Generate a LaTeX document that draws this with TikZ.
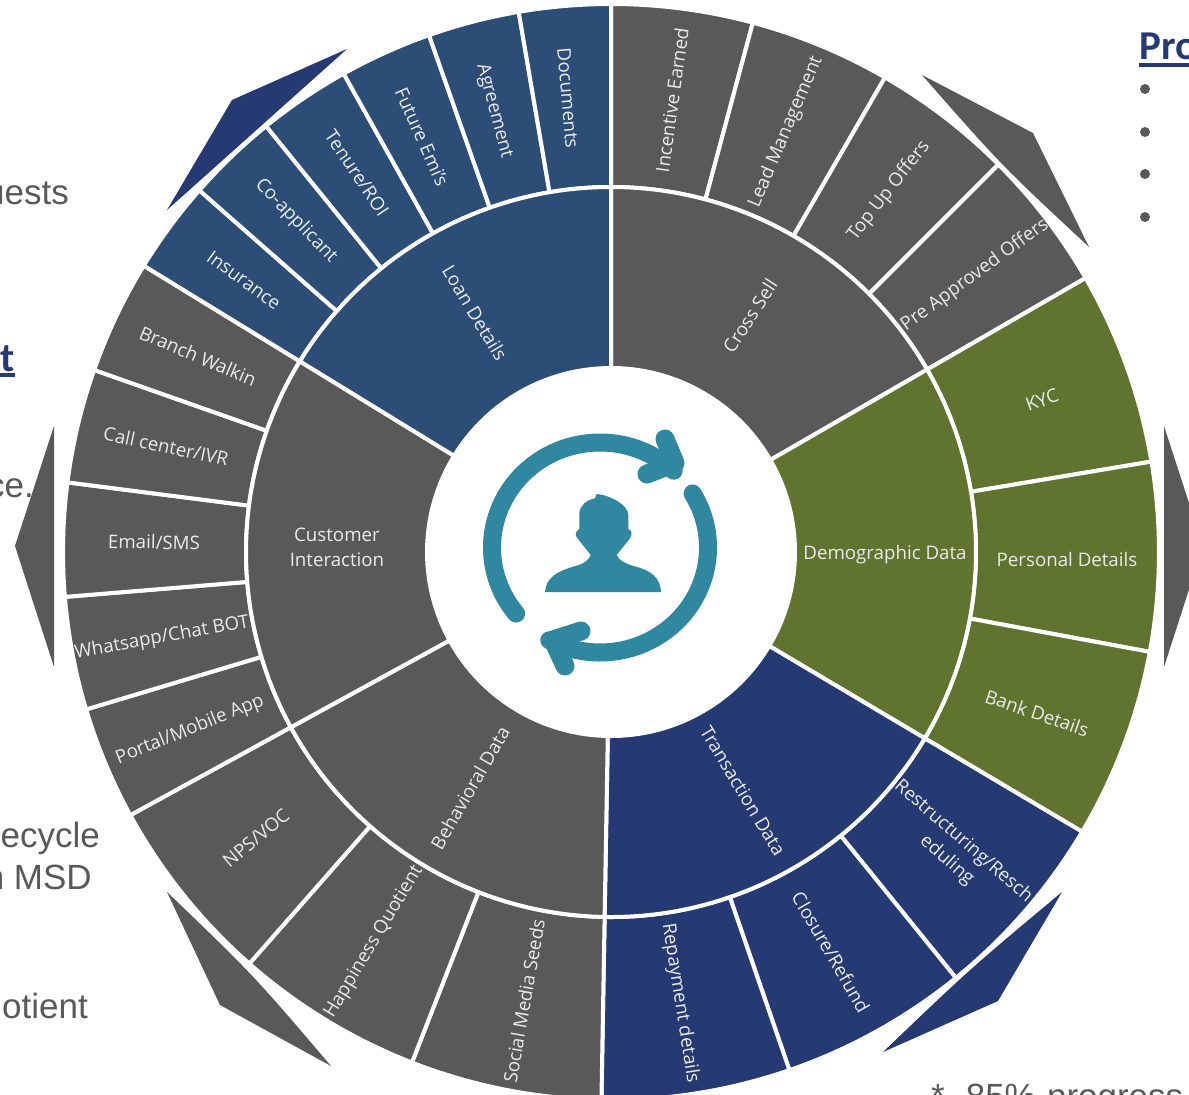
\documentclass[tikz,border=0pt]{standalone}
\usepackage{fontspec}
\setmainfont{Open Sans}
\newfontfamily\arialf{Liberation Sans}
\newfontfamily\headf{Carlito}
\definecolor{greyc}{HTML}{595959}
\definecolor{loanc}{HTML}{2C4D75}
\definecolor{olivec}{HTML}{607430}
\definecolor{navyc}{HTML}{253972}
\definecolor{tealc}{HTML}{2F87A0}
\newcommand{\sectr}[5]{\path[fill=#3,draw=white,line width=4pt,line join=miter] (#1:#5) arc[start angle=#1,end angle=#2,radius=#5] -- (#2:#4) arc[start angle=#2,end angle=#1,radius=#4] -- cycle;}
\newcommand{\sectrim}[3]{\sectr{#1}{#2}{#3}{184}{365}}
\newcommand{\sectrou}[3]{\sectr{#1}{#2}{#3}{365}{548}}
\tikzset{
 lab/.style={text=white!92!black,font=\fontsize{18.7}{25}\selectfont,inner sep=0pt,align=center},
 side/.style={text=greyc,font=\arialf\fontsize{35}{42}\selectfont,inner sep=0pt,anchor=base east},
 head/.style={text=navyc,font=\headf\bfseries\fontsize{41}{46}\selectfont,inner sep=0pt},
 pointer/.style={line width=0pt,draw=none},
 bulletdot/.style={circle,fill=greyc,minimum size=10pt,inner sep=0pt},
 ringline/.style={draw=tealc,line width=18pt,line cap=round,line join=round},
 headline/.style={draw=tealc,line width=19pt,line cap=round,line join=round}
}
\begin{document}
\begin{tikzpicture}[x=1pt,y=1pt]
\useasboundingbox (0,-1095) rectangle (1189,0);
\clip (0,-1095) rectangle (1189,0);
% wheel
\begin{scope}[shift={(611,-552)}]
\sectrou{90}{75}{greyc}\sectrou{75}{60}{greyc}\sectrou{60}{45}{greyc}\sectrou{45}{30}{greyc}
\sectrou{30}{9.5}{olivec}\sectrou{9.5}{-10.5}{olivec}\sectrou{-10.5}{-30.7}{olivec}
\sectrou{-30.7}{-51}{navyc}\sectrou{-51}{-71}{navyc}\sectrou{-71}{-91}{navyc}
\sectrou{-91}{-111.3}{greyc}\sectrou{-111.3}{-131.3}{greyc}\sectrou{-131.3}{-151.3}{greyc}
\sectrou{208.7}{196.7}{greyc}\sectrou{196.7}{184.7}{greyc}\sectrou{184.7}{172.7}{greyc}\sectrou{172.7}{160.6}{greyc}\sectrou{160.6}{148.5}{greyc}
\sectrou{148.5}{138.7}{loanc}\sectrou{138.7}{129}{loanc}\sectrou{129}{119.2}{loanc}\sectrou{119.2}{109.4}{loanc}\sectrou{109.4}{99.7}{loanc}\sectrou{99.7}{90}{loanc}
\sectrim{90}{30}{greyc}\sectrim{30}{-30.7}{olivec}\sectrim{-30.7}{-91}{navyc}\sectrim{-91}{-151.3}{greyc}\sectrim{208.7}{148.5}{greyc}\sectrim{148.5}{90}{loanc}
\fill[white] (0,0) circle[radius=184.5];
\end{scope}
% pointers
\fill[pointer,navyc] (167,-210) -- (232,-100) -- (347,-49) .. controls (257,-129) .. cycle;
\fill[pointer,greyc] (922,-75) -- (1033,-133) -- (1089,-247) .. controls (1001,-165) .. cycle;
\fill[pointer,greyc] (54,-426) -- (15,-546) -- (54,-667) -- cycle;
\fill[pointer,greyc] (1164,-426) -- (1203,-546) -- (1164,-667) -- cycle;
\fill[pointer,greyc] (167,-892) -- (220,-1005) -- (331,-1066) .. controls (253.4,-975) .. cycle;
\fill[pointer,navyc] (1062,-892) -- (998,-1001) -- (883,-1052) .. controls (969.8,-969) .. cycle;
% icon
\begin{scope}[shift={(600,-547.5)}]
\draw[ringline] (219:108 and 105) arc[start angle=219,end angle=47,x radius=108,y radius=105];
\draw[ringline] (31:108 and 105) arc[start angle=31,end angle=-118,x radius=108,y radius=105];
\end{scope}
\coordinate (hta) at (665,-439);\coordinate (htb) at (675,-463);\coordinate (htc) at (647,-474);
\coordinate (hba) at (565,-666);\coordinate (hbb) at (553,-640);\coordinate (hbc) at (581,-631);
\draw[headline] (hta) -- (htb) -- (htc);
\draw[headline] (hba) -- (hbb) -- (hbc);
\begin{scope}[shift={(420,-380)},scale=0.33333]
\fill[tealc] (375,-636) .. controls (378,-595) and (405,-575) .. (470,-557) .. controls (495,-550) and (505,-540) .. (512,-525) -- (475,-478) .. controls (465,-468) and (463,-455) .. (478,-447) -- (478,-400) .. controls (480,-375) and (500,-360) .. (525,-355) -- (530,-342) .. controls (570,-345) and (625,-375) .. (625,-405) -- (625,-447) .. controls (637,-452) and (637,-462) .. (630,-475) -- (590,-525) .. controls (595,-540) and (615,-550) .. (640,-558) .. controls (690,-570) and (720,-590) .. (723,-636) -- cycle;
\end{scope}
% inner labels
\node[lab,rotate=-59] (n1) at (475,-313) {Loan Details};
\node[lab,rotate=57] (n2) at (750,-316) {Cross Sell};
\node[lab] (n3) at (885,-555) {Demographic Data};
\node[lab,rotate=-59] (n4) at (743,-791) {Transaction Data};
\node[lab,rotate=60] (n5) at (470,-788) {Behavioral Data};
\node[lab] (n6) at (337,-547) {Customer\\Interaction};
% outer labels
\node[lab,rotate=-85] (o1) at (568,-98) {Documents};
\node[lab,rotate=-75] (o2) at (494,-111) {Agreement};
\node[lab,rotate=-66] (o3) at (422,-137) {Future Emi's};
\node[lab,rotate=-56] (o4) at (357,-173) {Tenure/ROI};
\node[lab,rotate=-46] (o5) at (296,-221) {Co-applicant};
\node[lab,rotate=-36] (o6) at (244,-280) {Insurance};
\node[lab,rotate=-23] (o7) at (198,-356) {Branch Walkin};
\node[lab,rotate=-12] (o8) at (166,-446) {Call center/IVR};
\node[lab,rotate=-1] (o9) at (154,-542) {Email/SMS};
\node[lab,rotate=10] (o10) at (162,-638) {Whatsapp/Chat BOT};
\node[lab,rotate=22] (o11) at (190,-730) {Portal/Mobile App};
\node[lab,rotate=40] (o12) at (256,-838) {NPS/VOC};
\node[lab,rotate=59] (o13) at (374,-942) {Happiness Quotient};
\node[lab,rotate=80] (o14) at (524,-1001) {Social Media Seeds};
\node[lab,rotate=-81] (o15) at (680,-1003) {Repayment details};
\node[lab,rotate=-60] (o16) at (831,-952) {Closure/Refund};
\node[lab,rotate=-41] (o17) at (955,-851) {Restructuring/Resch\\eduling};
\node[lab,rotate=82] (o18) at (672,-100) {Incentive Earned};
\node[lab,rotate=67] (o19) at (786,-132) {Lead Management};
\node[lab,rotate=52] (o20) at (889,-191) {Top Up Offers};
\node[lab,rotate=36] (o21) at (975,-275) {Pre Approved Offers};
\node[lab,rotate=20] (o22) at (1042,-400) {KYC};
\node[lab] (o23) at (1067,-559) {Personal Details};
\node[lab,rotate=-19] (o24) at (1037,-713) {Bank Details};
% clipped side text
\node[side] (s1) at (69,-204) {uests};
\node[side] (s2) at (34,-497) {ce.};
\node[side] (s3) at (100,-847) {ecycle};
\node[side] (s4) at (92,-889) {n MSD};
\node[side] (s5) at (88,-1018) {otient};
\node[side,anchor=base west] (s6) at (931,-1108) {*\hspace{21pt}85\%\hspace{1.5pt} progress};
\node[head,anchor=base east] (h1) at (15,-371) {t};
\node[head,anchor=base west] (h2) at (1139,-59) {Pro};
\fill[navyc] (0,-373) rectangle (15,-377);
\fill[navyc] (1139,-63) rectangle (1189,-66.5);
\node[bulletdot] (b1) at (1145,-89) {};
\node[bulletdot] (b2) at (1145,-132) {};
\node[bulletdot] (b3) at (1145,-174) {};
\node[bulletdot] (b4) at (1145,-217) {};
\end{tikzpicture}
\end{document}
